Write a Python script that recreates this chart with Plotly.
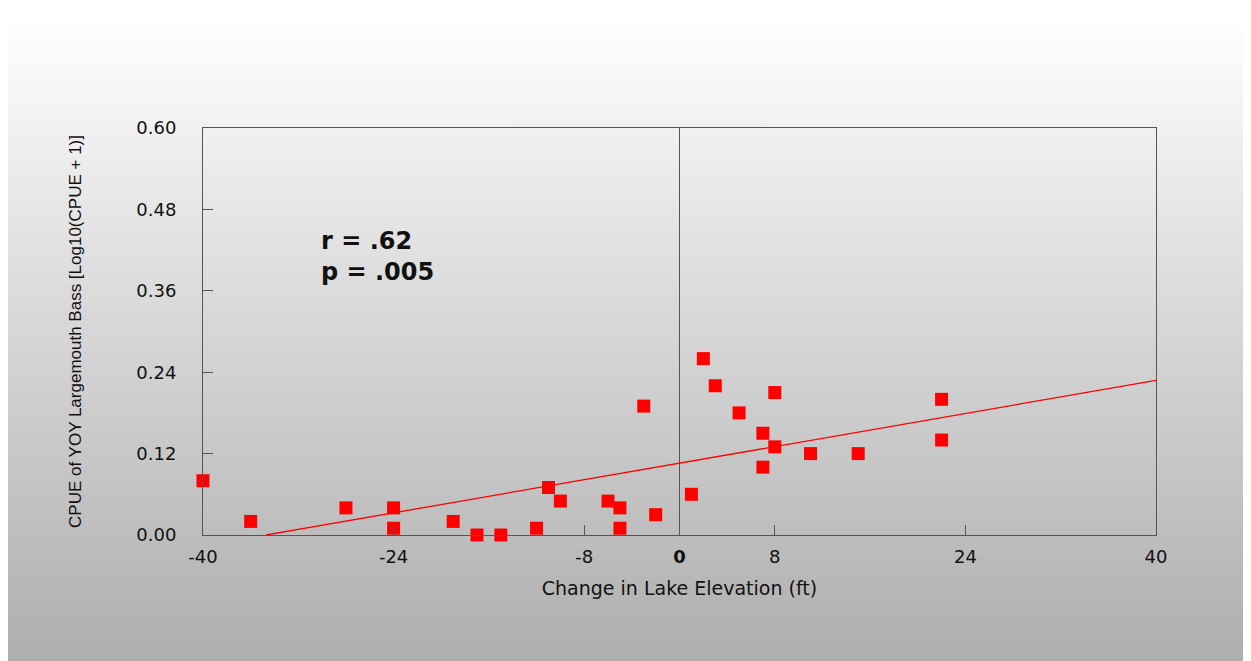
import base64
import plotly.graph_objects as go

# Data
elev_change = [-40, -36, -28, -24, -24, -19, -17, -15, -12, -11, -10, -6, -5, -5,
               -3, -2, 1, 2, 3, 5, 7, 7, 8, 8, 11, 15, 22, 22]
cpue = [0.08, 0.02, 0.04, 0.04, 0.01, 0.02, 0.00, 0.00, 0.01, 0.07, 0.05, 0.05, 0.04, 0.01,
        0.19, 0.03, 0.06, 0.26, 0.22, 0.18, 0.15, 0.10, 0.21, 0.13, 0.12, 0.12, 0.20, 0.14]
fit_x = [-34.7, 40]
fit_y = [0.0, 0.228]

x_ticks = [-40, -24, -8, 0, 8, 24, 40]
x_ticktext = ["-40", "-24", "-8", "<b>0</b>", "8", "24", "40"]
y_ticks = [0.0, 0.12, 0.24, 0.36, 0.48, 0.60]
y_ticktext = ["0.00", "0.12", "0.24", "0.36", "0.48", "0.60"]

stats_text = "r = .62<br>p = .005"

FONT = "Liberation Sans, Arial, sans-serif"
WIDE = "DejaVu Sans, Liberation Sans, sans-serif"

# background gradient as an inline SVG image
svg = ('<svg xmlns="http://www.w3.org/2000/svg" width="100" height="100" preserveAspectRatio="none">'
       '<defs><linearGradient id="g" x1="0" y1="0" x2="0" y2="1">'
       '<stop offset="0" stop-color="#ffffff"/><stop offset="0.45" stop-color="#d9d9d9"/>'
       '<stop offset="1" stop-color="#adadad"/></linearGradient></defs>'
       '<rect width="100" height="100" fill="url(#g)"/></svg>')
svg_uri = "data:image/svg+xml;base64," + base64.b64encode(svg.encode()).decode()

W, H = 1251, 661
L, R, T, B = 195, 103, 120, 134
pw, ph = W - L - R, H - T - B

def px2paper_x(px):
    return (px - L) / pw

def py2paper_y(py):
    return (H - B - py) / ph

fig = go.Figure()

fig.add_trace(go.Scatter(
    x=fit_x, y=fit_y, mode="lines",
    line=dict(color="#ff0000", width=1.3),
    hoverinfo="skip", showlegend=False,
))
fig.add_trace(go.Scatter(
    x=elev_change, y=cpue, mode="markers",
    marker=dict(symbol="square", size=13, color="#ff0000", line=dict(width=0)),
    showlegend=False, cliponaxis=False,
))

fig.add_shape(type="line", xref="x", yref="y domain", x0=0, x1=0, y0=0, y1=1,
              line=dict(color="#555555", width=1), layer="below")

fig.add_annotation(x=-30.3, y=0.41, xref="x", yref="y", text="<b>" + stats_text + "</b>",
                   showarrow=False, xanchor="left", yanchor="middle", align="left",
                   font=dict(family=WIDE, size=24, color="#111111"))

fig.add_layout_image(dict(
    source=svg_uri, xref="paper", yref="paper",
    x=px2paper_x(-2), y=py2paper_y(8),
    sizex=(W + 2) / pw, sizey=(H - 8) / ph,
    xanchor="left", yanchor="top", sizing="stretch", layer="below",
))

fig.update_xaxes(
    range=[-40, 40], tickvals=x_ticks, ticktext=x_ticktext,
    ticks="inside", ticklen=10, tickcolor="#555555",
    showline=True, linecolor="#555555", linewidth=1, mirror=True,
    showgrid=False, zeroline=False,
    tickfont=dict(family=WIDE, size=18, color="#111111"),
    ticklabelstandoff=5,
    title=dict(text="Change in Lake Elevation (ft)", standoff=16,
               font=dict(family=WIDE, size=19, color="#111111")),
)
fig.update_yaxes(
    range=[0, 0.6], tickvals=y_ticks, ticktext=y_ticktext,
    ticks="inside", ticklen=10, tickcolor="#555555",
    showline=True, linecolor="#555555", linewidth=1, mirror=True,
    showgrid=False, zeroline=False,
    tickfont=dict(family=WIDE, size=18, color="#111111"),
    ticklabelstandoff=22,
    title=dict(text="CPUE of YOY Largemouth Bass [Log10(CPUE + 1)]", standoff=50,
               font=dict(family=FONT, size=17, color="#111111")),
)

fig.update_layout(
    width=W, height=H,
    margin=dict(l=L, r=R, t=T, b=B, autoexpand=False),
    paper_bgcolor="#ffffff", plot_bgcolor="rgba(0,0,0,0)",
    font=dict(family=FONT),
)

fig.write_html("out.html")
